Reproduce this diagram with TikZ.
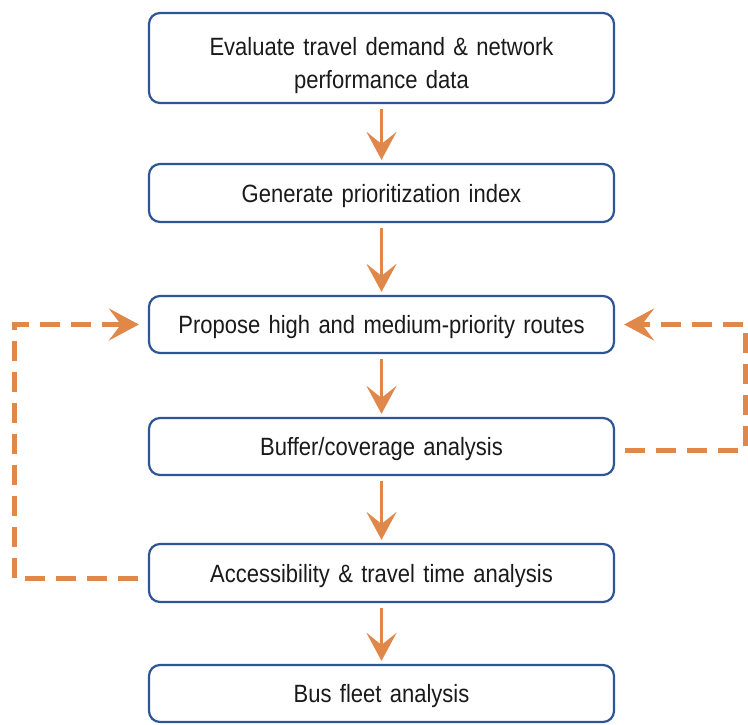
\documentclass[tikz,border=0pt]{standalone}
\usepackage{fontspec}
\setmainfont{Liberation Sans}[FakeStretch=0.88, WordSpace=0.7]
\usetikzlibrary{arrows.meta,positioning}
\definecolor{boxblue}{HTML}{2E5597}
\definecolor{arrorange}{HTML}{E0874A}
\definecolor{txt}{HTML}{1A1A1A}
\tikzset{
  flowbox/.style={draw=boxblue, line width=2.2pt, rounded corners=11pt, fill=white,
    minimum width=465pt, text width=440pt, align=center, inner sep=0pt,
    font=\fontsize{25}{33}\selectfont, text=txt, text height=18pt, text depth=-6pt},
  flowarrow/.style={draw=arrorange, line width=3.2pt,
    -{Stealth[length=28pt,width=30pt,inset=12pt]}},
  loopline/.style={draw=arrorange, line width=5pt, dash pattern=on 20pt off 11pt,
    -{Stealth[length=30pt,width=32pt,inset=12pt]}, shorten >=9pt}
}
\begin{document}
\begin{tikzpicture}[x=1pt,y=-1pt]
\useasboundingbox (0,0) rectangle (748,724);
\node[flowbox, minimum height=90pt, text height=18pt, text depth=23pt] (b1) at (381.5,58) {Evaluate travel demand \& network\\performance data};
\node[flowbox, minimum height=58pt] (b2) at (381.5,193) {Generate prioritization index};
\node[flowbox, minimum height=57pt] (b3) at (381.5,324.5) {Propose high and medium-priority routes};
\node[flowbox, minimum height=57pt] (b4) at (381.5,446.5) {Buffer/coverage analysis};
\node[flowbox, minimum height=58pt] (b5) at (381.5,573) {Accessibility \& travel time analysis};
\node[flowbox, minimum height=57pt] (b6) at (381.5,693.5) {Bus fleet analysis};
\coordinate (lx) at (14,0);
\coordinate (rx) at (745,0);
\draw[flowarrow, shorten <=5pt, shorten >=3pt] (b1) -- (b2);
\draw[flowarrow, shorten <=5pt, shorten >=3pt] (b2) -- (b3);
\draw[flowarrow, shorten <=5pt, shorten >=3pt] (b3) -- (b4);
\draw[flowarrow, shorten <=5pt, shorten >=3pt] (b4) -- (b5);
\draw[flowarrow, shorten <=5pt, shorten >=3pt] (b5) -- (b6);
\draw[loopline, shorten <=10pt] ([yshift=-5pt]b5.west) -| (lx |- b3.west) -- (b3.west);
\draw[loopline, shorten <=10pt] ([yshift=-4pt]b4.east) -| (rx |- b3.east) -- (b3.east);
\end{tikzpicture}
\end{document}
